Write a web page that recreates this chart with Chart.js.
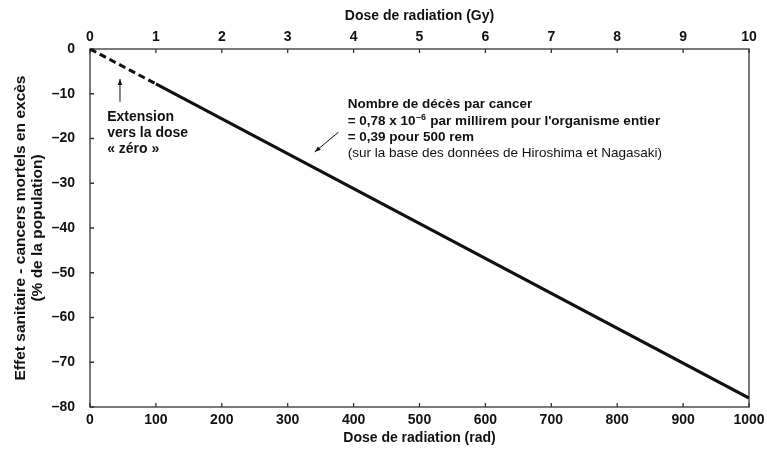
<!DOCTYPE html>
<html>
<head>
<meta charset="utf-8">
<script src="https://cdn.jsdelivr.net/npm/chart.js@4/dist/chart.umd.min.js"></script>
<style>
  html, body { margin: 0; padding: 0; background: #fff; }
  canvas { display: block; }
</style>
</head>
<body>
<canvas id="c" width="767" height="449"></canvas>
<script>
// ---- Data ----
const radExtension = [0, 100];          // dashed extension toward zero dose
const effectExtension = [0, -7.8];
const radObserved = [100, 1000];        // solid line
const effectObserved = [-7.8, -78];
const radTicks = [0, 100, 200, 300, 400, 500, 600, 700, 800, 900, 1000];
const gyTicks = [0, 1, 2, 3, 4, 5, 6, 7, 8, 9, 10];
const effectTicks = [0, -10, -20, -30, -40, -50, -60, -70, -80];

const FONT = "'Liberation Sans', Arial, Helvetica, sans-serif";
const INK = '#111';

function pts(xs, ys) { return xs.map((x, i) => ({ x: x, y: ys[i] })); }

const decor = {
  id: 'decor',
  beforeDatasetsDraw(chart) {
    const ctx = chart.ctx;
    const a = chart.chartArea;
    const sx = chart.scales.x, sx2 = chart.scales.x2, sy = chart.scales.y;
    ctx.save();
    ctx.strokeStyle = '#333';
    ctx.lineWidth = 1.3;
    ctx.strokeRect(a.left, a.top, a.right - a.left, a.bottom - a.top);
    ctx.beginPath();
    radTicks.forEach(v => { const p = sx.getPixelForValue(v); ctx.moveTo(p, a.bottom); ctx.lineTo(p, a.bottom - 4); });
    gyTicks.forEach(v => { const p = sx2.getPixelForValue(v); ctx.moveTo(p, a.top); ctx.lineTo(p, a.top + 4); });
    effectTicks.forEach(v => { const p = sy.getPixelForValue(v); ctx.moveTo(a.left, p); ctx.lineTo(a.left + 4, p); });
    ctx.stroke();
    ctx.restore();
  },
  afterDraw(chart) {
    const ctx = chart.ctx;
    const sx = chart.scales.x, sy = chart.scales.y;
    const X = v => sx.getPixelForValue(v), Y = v => sy.getPixelForValue(v);
    ctx.save();
    ctx.fillStyle = INK;
    ctx.strokeStyle = INK;
    ctx.textBaseline = 'middle';
    ctx.textAlign = 'left';

    // "Extension vers la dose « zéro »"
    ctx.font = 'bold 14px ' + FONT;
    const ex = X(26);
    ctx.fillText('Extension', ex, Y(-15.2));
    ctx.fillText('vers la dose', ex, Y(-18.8));
    ctx.fillText('\u00AB z\u00E9ro \u00BB', ex, Y(-22.3));
    arrow(ctx, X(45.5), Y(-11.8), X(45.5), Y(-6.7));

    // Main annotation
    const nx = X(391);
    ctx.font = 'bold 13.5px ' + FONT;
    ctx.fillText('Nombre de d\u00E9c\u00E8s par cancer', nx, Y(-12.3));
    let t1 = '= 0,78 x 10';
    ctx.fillText(t1, nx, Y(-16.1));
    let w = ctx.measureText(t1).width;
    ctx.font = 'bold 9px ' + FONT;
    ctx.fillText('\u20136', nx + w + 0.5, Y(-16.1) - 4);
    let w2 = ctx.measureText('\u20136').width;
    ctx.font = 'bold 13.5px ' + FONT;
    ctx.fillText(' par millirem pour l\'organisme entier', nx + w + w2 + 1, Y(-16.1));
    ctx.fillText('= 0,39 pour 500 rem', nx, Y(-19.7));
    ctx.font = '13.5px ' + FONT;
    ctx.fillText('(sur la base des donn\u00E9es de Hiroshima et Nagasaki)', nx, Y(-23.2));
    arrow(ctx, X(377), Y(-18.6), X(341), Y(-23.0));
    ctx.restore();
  }
};

function arrow(ctx, x1, y1, x2, y2) {
  ctx.save();
  ctx.lineWidth = 1;
  ctx.beginPath();
  ctx.moveTo(x1, y1);
  ctx.lineTo(x2, y2);
  ctx.stroke();
  const ang = Math.atan2(y2 - y1, x2 - x1);
  const L = 6, W = 2.2;
  ctx.beginPath();
  ctx.moveTo(x2, y2);
  ctx.lineTo(x2 - L * Math.cos(ang) + W * Math.sin(ang), y2 - L * Math.sin(ang) - W * Math.cos(ang));
  ctx.lineTo(x2 - L * Math.cos(ang) - W * Math.sin(ang), y2 - L * Math.sin(ang) + W * Math.cos(ang));
  ctx.closePath();
  ctx.fill();
  ctx.restore();
}

const dash = s => String(s).replace('-', '\u2013');
const noGrid = { display: false, drawTicks: false, tickLength: 0 };

new Chart(document.getElementById('c'), {
  type: 'line',
  data: {
    datasets: [
      {
        data: pts(radExtension, effectExtension),
        borderColor: INK, borderWidth: 3, borderDash: [7, 4],
        pointRadius: 0, fill: false, tension: 0, xAxisID: 'x', yAxisID: 'y'
      },
      {
        data: pts(radObserved, effectObserved),
        borderColor: INK, borderWidth: 3,
        pointRadius: 0, fill: false, tension: 0, xAxisID: 'x', yAxisID: 'y'
      }
    ]
  },
  options: {
    responsive: false,
    animation: false,
    devicePixelRatio: 1,
    layout: { padding: { left: 0, right: 18, top: 0, bottom: 0 } },
    plugins: { legend: { display: false }, tooltip: { enabled: false } },
    scales: {
      x: {
        type: 'linear', position: 'bottom', min: 0, max: 1000,
        afterFit: s => { s.height = 42; s.paddingRight = 0; },
        afterBuildTicks: s => { s.ticks = radTicks.map(v => ({ value: v })); },
        grid: noGrid, border: { display: false },
        ticks: { color: INK, padding: 5, maxRotation: 0, callback: v => String(v),
                 font: { family: FONT, size: 14, weight: 'bold' } },
        title: { display: true, text: 'Dose de radiation (rad)', color: INK, padding: { top: 0, bottom: 2 },
                 font: { family: FONT, size: 14, weight: 'bold' } }
      },
      x2: {
        type: 'linear', position: 'top', min: 0, max: 10,
        afterFit: s => { s.height = 49; s.paddingRight = 0; },
        afterBuildTicks: s => { s.ticks = gyTicks.map(v => ({ value: v })); },
        grid: noGrid, border: { display: false },
        ticks: { color: INK, padding: 3, maxRotation: 0, callback: v => String(v),
                 font: { family: FONT, size: 14, weight: 'bold' } },
        title: { display: true, text: 'Dose de radiation (Gy)', color: INK, padding: { top: 8, bottom: 0 },
                 font: { family: FONT, size: 14, weight: 'bold' } }
      },
      y: {
        type: 'linear', position: 'left', min: -80, max: 0,
        afterFit: s => { s.width = 90; },
        afterBuildTicks: s => { s.ticks = effectTicks.map(v => ({ value: v })); },
        grid: noGrid, border: { display: false },
        ticks: { color: INK, padding: 15, callback: v => dash(v), font: { family: FONT, size: 14, weight: 'bold' } },
        title: { display: true, text: ['Effet sanitaire - cancers mortels en exc\u00E8s', '(% de la population)'],
                 color: INK, padding: { top: 12, bottom: 0 },
                 font: { family: FONT, size: 15.5, weight: 'bold', lineHeight: 1.1 } }
      }
    }
  },
  plugins: [decor]
});
</script>
</body>
</html>
